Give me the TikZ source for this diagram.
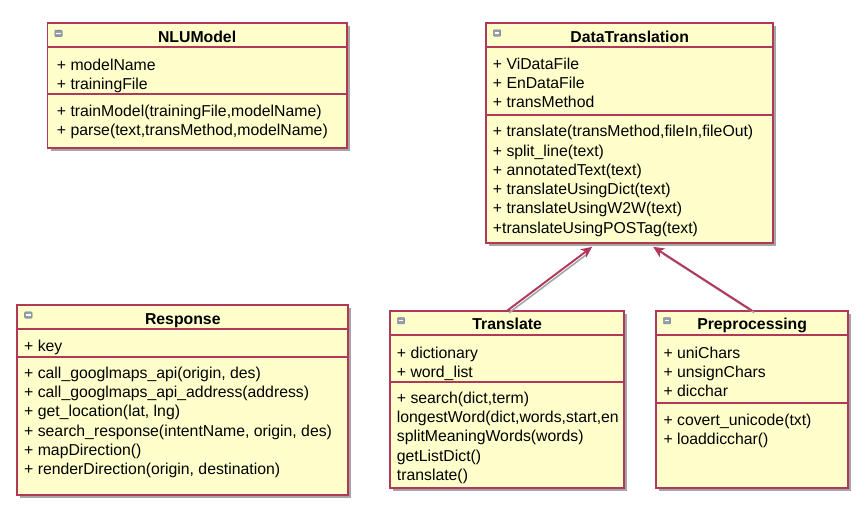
\documentclass[tikz,border=0pt]{standalone}
\usepackage{fontspec}
\setmainfont{Liberation Sans}
\usetikzlibrary{arrows.meta,calc}
\definecolor{umlred}{RGB}{178,56,90}
\definecolor{umlfill}{RGB}{255,255,204}
\definecolor{umlshadow}{RGB}{165,165,165}
\definecolor{umlicon}{RGB}{150,158,172}
\tikzset{
  cls/.style={rectangle, draw=umlred, fill=umlfill, line width=1.9pt, inner sep=0pt, outer sep=0pt},
  cline/.style={draw=umlred, line width=1.9pt},
  txt/.style={font=\fontsize{15.8}{19.3}\selectfont, inner sep=0pt, anchor=base west},
  ttl/.style={font=\fontsize{15.8}{19.3}\selectfont\bfseries, inner sep=0pt, anchor=base},
  icon/.style={rectangle, rounded corners=1pt, minimum width=7.5pt, minimum height=6.5pt, inner sep=0pt,
    fill=umlicon, draw=umlicon!75!black, line width=0.4pt,
    path picture={\draw[white, line width=1.1pt] ([xshift=1.4pt]path picture bounding box.west) -- ([xshift=-1.4pt]path picture bounding box.east);}},
  gen/.style={draw=umlred, line width=1.9pt, -{Stealth[length=11pt,width=10pt,inset=3pt]}},
  genshadow/.style={draw=umlshadow, line width=1.6pt, shorten >=10pt},
}
% #1 name, #2 x1, #3 y1, #4 x2, #5 y2, #6 title, #7 divider 1, #8 divider 2
\newcommand\umlclass[8]{%
  \fill[umlshadow] ({#2+3},{#3+3}) rectangle ({#4+3},{#5+3});
  \node[cls, minimum width={#4-#2}, minimum height={#5-#3}] (#1) at ({(#2+#4)/2},{(#3+#5)/2}) {};
  \draw[cline] (#2,#7) -- (#4,#7);
  \draw[cline] (#2,#8) -- (#4,#8);
  \node[icon] (#1-icon) at ({#2+11},{#3+10}) {};
  \node[ttl] (#1-title) at ({(#2+#4)/2},{#3+19}) {#6};
}
% #1 prefix, #2 x, #3 first baseline, #4 list of lines
\newcommand\umllines[4]{%
  \foreach \t [count=\i] in {#4} {\node[txt] (#1-\i) at ({#2},{#3+19.3*(\i-1)}) {\t};}
}
\begin{document}
\begin{tikzpicture}[x=1pt,y=-1pt]
\path[use as bounding box, fill=white] (0,0) rectangle (868,506);

% NLUModel
\umlclass{nlu}{47.5}{23.3}{346.7}{147.7}{NLUModel}{47.3}{94}
\umllines{nlua}{56.7}{70}{{+ modelName},{+ trainingFile}}
\umllines{nlum}{56.7}{116}{{+ trainModel(trainingFile,modelName)},{+ parse(text,transMethod,modelName)}}

% DataTranslation
\umlclass{dt}{486}{23}{773.3}{243.3}{DataTranslation}{47}{115}
\umllines{dta}{492.7}{69.3}{{+ ViDataFile},{+ EnDataFile},{+ transMethod}}
\umllines{dtm}{492.7}{136.7}{{+ translate(transMethod,fileIn,fileOut)},{+ split\_line(text)},{+ annotatedText(text)},{+ translateUsingDict(text)},{+ translateUsingW2W(text)},{+translateUsingPOSTag(text)}}

% Response
\umlclass{resp}{17.3}{305}{348.3}{495}{Response}{329.3}{356.7}
\umllines{respa}{24}{351.7}{{+ key}}
\umllines{respm}{24}{378.3}{{+ call\_googlmaps\_api(origin, des)},{+ call\_googlmaps\_api\_address(address)},{+ get\_location(lat, lng)},{+ search\_response(intentName, origin, des)},{+ mapDirection()},{+ renderDirection(origin, destination)}}

% Translate
\umlclass{tr}{390}{310.7}{624.3}{488.3}{Translate}{335}{381.7}
\umllines{tra}{396.7}{358.3}{{+ dictionary},{+ word\_list}}
\begin{scope}
  \clip (391,382.5) rectangle (618.8,487.5);
  \umllines{trm}{396.7}{403.3}{{+ search(dict,term)},{longestWord(dict,words,start,end)},{splitMeaningWords(words)},{getListDict()},{translate()}}
\end{scope}

% Preprocessing
\umlclass{pre}{656}{310.7}{848.3}{488.3}{Preprocessing}{335}{403.3}
\umllines{prea}{663.3}{358.3}{{+ uniChars},{+ unsignChars},{+ dicchar}}
\umllines{prem}{663.3}{425}{{+ covert\_unicode(txt)},{+ loaddicchar()}}

% generalization arrows
\coordinate (dtL) at ([xshift=-37.5pt,yshift=-3.5pt]dt.south);
\coordinate (dtR) at ([xshift=23.5pt,yshift=-3.5pt]dt.south);
\draw[genshadow] ([shift={(2,2)}]tr.north) -- ([shift={(2,2)}]dtL);
\draw[genshadow] ([shift={(2,2)}]pre.north) -- ([shift={(2,2)}]dtR);
\draw[gen] (tr.north) -- (dtL);
\draw[gen] (pre.north) -- (dtR);
\end{tikzpicture}
\end{document}
